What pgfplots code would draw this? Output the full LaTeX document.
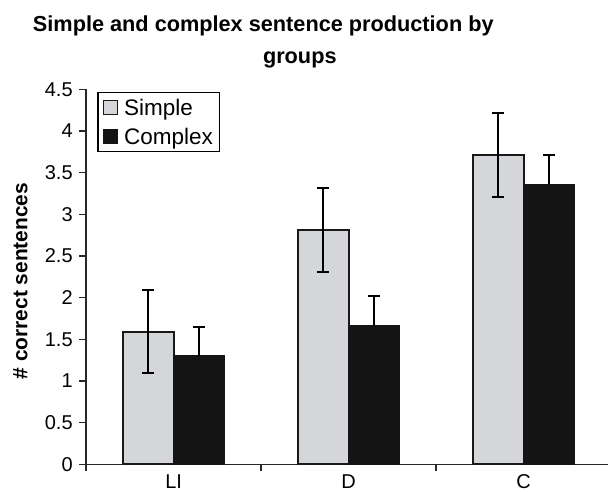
\documentclass[border=0pt]{standalone}
\usepackage{fontspec}
\setmainfont{Liberation Sans}
\usepackage{pgfplots}
\usepackage{pgfplotstable}
\pgfplotsset{compat=1.18}
\definecolor{simplegray}{RGB}{213,214,217}
\definecolor{complexblack}{RGB}{20,20,20}
\definecolor{axgray}{RGB}{40,40,40}
\pgfplotsset{sqlegend/.style={legend image code/.code={\draw[##1, line width=1.2pt] (0pt,-7pt) rectangle (14pt,7pt);}}}

\pgfplotstableread{
x y e
0 1.59 0.50
1 2.81 0.50
2 3.71 0.50
}\simpledata
\pgfplotstableread{
x y e
0 1.30 0.35
1 1.67 0.35
2 3.36 0.35
}\complexdata

\begin{document}
\begin{tikzpicture}[x=1pt,y=1pt]
\useasboundingbox (0,0) rectangle (608,492);
\begin{axis}[
  at={(86.2pt,27.7pt)}, anchor=south west,
  scale only axis, width=521.8pt, height=375pt,
  xmin=-0.5, xmax=2.482, ymin=0, ymax=4.5,
  axis x line*=bottom, axis y line*=left,
  axis line style={-, draw=axgray, line width=1.4pt},
  /pgf/number format/assume math mode=true,
  ytick={0,0.5,1,1.5,2,2.5,3,3.5,4,4.5},
  yticklabel style={/pgf/number format/fixed, font=\fontsize{20}{23}\selectfont, xshift=-3pt},
  xtick={-0.5,0.5,1.5}, xticklabels={},
  extra x ticks={0,1,2}, extra x tick labels={LI,D,C},
  extra x tick style={major tick length=0pt},
  xticklabel style={font=\fontsize{20}{23}\selectfont, anchor=base, yshift=-24.5pt},
  tick align=outside,
  major tick length=7pt,
  tick style={draw=axgray, line width=1.4pt},
  ylabel={\# correct sentences},
  every axis y label/.style={at={(axis description cs:-0.1129,0.4888)}, anchor=base, rotate=90, font=\bfseries\fontsize{20.9}{24}\selectfont},
  legend style={at={(axis description cs:0.0213,0.992)}, anchor=north west, draw=black, line width=1.2pt,
    font=\fontsize{22.5}{26}\selectfont, inner xsep=5pt, inner ysep=4pt, row sep=7pt, column sep=4pt},
  legend cell align=left,
  clip=false,
]
\addplot[ybar, bar width=50.5pt, bar shift=0pt, fill=simplegray, draw=black!90, line width=1.8pt, sqlegend,
  error bars/.cd, y dir=both, y explicit,
  error bar style={line width=2pt, black},
  error mark options={rotate=90, mark size=6pt, line width=2pt, black}]
  table[x expr=\thisrow{x}-0.1443, y=y, y error=e] {\simpledata};
\addlegendentry{Simple}
\addplot[ybar, bar width=50.5pt, bar shift=0pt, fill=complexblack, draw=complexblack, line width=1.2pt, sqlegend,
  error bars/.cd, y dir=plus, y explicit,
  error bar style={line width=2pt, black},
  error mark options={rotate=90, mark size=6pt, line width=2pt, black}]
  table[x expr=\thisrow{x}+0.1443, y=y, y error=e] {\complexdata};
\addlegendentry{Complex}
\end{axis}
\node[anchor=base, font=\bfseries\fontsize{21.7}{26}\selectfont] at (263.3,460.3) {Simple and complex sentence production by};
\node[anchor=base, font=\bfseries\fontsize{21.7}{26}\selectfont] at (299.8,428.5) {groups};
\end{tikzpicture}
\end{document}
